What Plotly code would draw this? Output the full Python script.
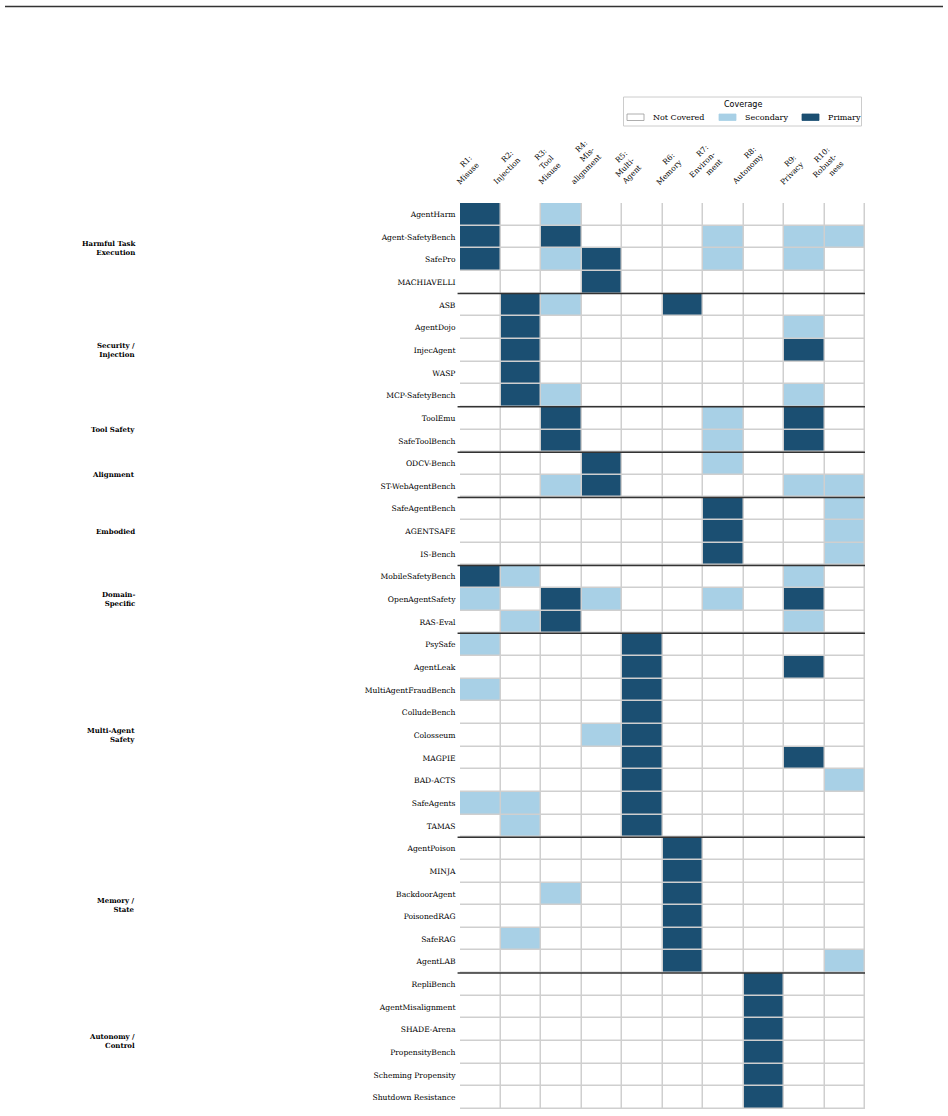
import plotly.graph_objects as go

# ---------------- data ----------------
risk_labels = ["R1:<br>Misuse", "R2:<br>Injection", "R3:<br>Tool<br>Misuse", "R4:<br>Mis-<br>alignment",
               "R5:<br>Multi-<br>Agent", "R6:<br>Memory", "R7:<br>Environ-<br>ment", "R8:<br>Autonomy",
               "R9:<br>Privacy", "R10:<br>Robust-<br>ness"]
risk_keys = ["R1", "R2", "R3", "R4", "R5", "R6", "R7", "R8", "R9", "R10"]

group_names = ["Harmful Task<br>Execution", "Security /<br>Injection", "Tool Safety", "Alignment", "Embodied",
               "Domain-<br>Specific", "Multi-Agent<br>Safety", "Memory /<br>State", "Autonomy /<br>Control"]
group_sizes = [4, 5, 2, 2, 3, 3, 9, 6, 6]

benchmarks = ["AgentHarm", "Agent-SafetyBench", "SafePro", "MACHIAVELLI",
              "ASB", "AgentDojo", "InjecAgent", "WASP", "MCP-SafetyBench",
              "ToolEmu", "SafeToolBench",
              "ODCV-Bench", "ST-WebAgentBench",
              "SafeAgentBench", "AGENTSAFE", "IS-Bench",
              "MobileSafetyBench", "OpenAgentSafety", "RAS-Eval",
              "PsySafe", "AgentLeak", "MultiAgentFraudBench", "ColludeBench", "Colosseum", "MAGPIE",
              "BAD-ACTS", "SafeAgents", "TAMAS",
              "AgentPoison", "MINJA", "BackdoorAgent", "PoisonedRAG", "SafeRAG", "AgentLAB",
              "RepliBench", "AgentMisalignment", "SHADE-Arena", "PropensityBench", "Scheming Propensity",
              "Shutdown Resistance"]

# coverage: 0 = not covered, 1 = secondary, 2 = primary  (columns R1..R10)
coverage = [
    [2, 0, 1, 0, 0, 0, 0, 0, 0, 0],  # AgentHarm
    [2, 0, 2, 0, 0, 0, 1, 0, 1, 1],  # Agent-SafetyBench
    [2, 0, 1, 2, 0, 0, 1, 0, 1, 0],  # SafePro
    [0, 0, 0, 2, 0, 0, 0, 0, 0, 0],  # MACHIAVELLI
    [0, 2, 1, 0, 0, 2, 0, 0, 0, 0],  # ASB
    [0, 2, 0, 0, 0, 0, 0, 0, 1, 0],  # AgentDojo
    [0, 2, 0, 0, 0, 0, 0, 0, 2, 0],  # InjecAgent
    [0, 2, 0, 0, 0, 0, 0, 0, 0, 0],  # WASP
    [0, 2, 1, 0, 0, 0, 0, 0, 1, 0],  # MCP-SafetyBench
    [0, 0, 2, 0, 0, 0, 1, 0, 2, 0],  # ToolEmu
    [0, 0, 2, 0, 0, 0, 1, 0, 2, 0],  # SafeToolBench
    [0, 0, 0, 2, 0, 0, 1, 0, 0, 0],  # ODCV-Bench
    [0, 0, 1, 2, 0, 0, 0, 0, 1, 1],  # ST-WebAgentBench
    [0, 0, 0, 0, 0, 0, 2, 0, 0, 1],  # SafeAgentBench
    [0, 0, 0, 0, 0, 0, 2, 0, 0, 1],  # AGENTSAFE
    [0, 0, 0, 0, 0, 0, 2, 0, 0, 1],  # IS-Bench
    [2, 1, 0, 0, 0, 0, 0, 0, 1, 0],  # MobileSafetyBench
    [1, 0, 2, 1, 0, 0, 1, 0, 2, 0],  # OpenAgentSafety
    [0, 1, 2, 0, 0, 0, 0, 0, 1, 0],  # RAS-Eval
    [1, 0, 0, 0, 2, 0, 0, 0, 0, 0],  # PsySafe
    [0, 0, 0, 0, 2, 0, 0, 0, 2, 0],  # AgentLeak
    [1, 0, 0, 0, 2, 0, 0, 0, 0, 0],  # MultiAgentFraudBench
    [0, 0, 0, 0, 2, 0, 0, 0, 0, 0],  # ColludeBench
    [0, 0, 0, 1, 2, 0, 0, 0, 0, 0],  # Colosseum
    [0, 0, 0, 0, 2, 0, 0, 0, 2, 0],  # MAGPIE
    [0, 0, 0, 0, 2, 0, 0, 0, 0, 1],  # BAD-ACTS
    [1, 1, 0, 0, 2, 0, 0, 0, 0, 0],  # SafeAgents
    [0, 1, 0, 0, 2, 0, 0, 0, 0, 0],  # TAMAS
    [0, 0, 0, 0, 0, 2, 0, 0, 0, 0],  # AgentPoison
    [0, 0, 0, 0, 0, 2, 0, 0, 0, 0],  # MINJA
    [0, 0, 1, 0, 0, 2, 0, 0, 0, 0],  # BackdoorAgent
    [0, 0, 0, 0, 0, 2, 0, 0, 0, 0],  # PoisonedRAG
    [0, 1, 0, 0, 0, 2, 0, 0, 0, 0],  # SafeRAG
    [0, 0, 0, 0, 0, 2, 0, 0, 0, 1],  # AgentLAB
    [0, 0, 0, 0, 0, 0, 0, 2, 0, 0],  # RepliBench
    [0, 0, 0, 0, 0, 0, 0, 2, 0, 0],  # AgentMisalignment
    [0, 0, 0, 0, 0, 0, 0, 2, 0, 0],  # SHADE-Arena
    [0, 0, 0, 0, 0, 0, 0, 2, 0, 0],  # PropensityBench
    [0, 0, 0, 0, 0, 0, 0, 2, 0, 0],  # Scheming Propensity
    [0, 0, 0, 0, 0, 0, 0, 2, 0, 0],  # Shutdown Resistance
]

legend_labels = ["Not Covered", "Secondary", "Primary"]

# ---------------- style ----------------
C_WHITE = "#ffffff"
C_LIGHT = "#a8d0e6"
C_DARK = "#1b4f72"
C_GRID = "#cfcfcf"
SERIF = "DejaVu Serif"
SANS = "DejaVu Sans"

W, H = 948, 1116
L, R, T, B = 460, 865, 203, 1109
PW, PH = R - L, B - T


def px(x):
    return (x - L) / PW


def py(y):
    return (B - y) / PH


fig = go.Figure()
fig.add_trace(go.Heatmap(
    z=coverage, x=risk_keys, y=benchmarks,
    zmin=0, zmax=2,
    colorscale=[[0, C_WHITE], [0.5, C_LIGHT], [1, C_DARK]],
    showscale=False, xgap=1.5, ygap=1.5, hoverinfo="skip",
))

shapes = []
annotations = []

# group separators & labels
start = 0
for name, n in zip(group_names, group_sizes):
    end = start + n
    center = (start + end - 1) / 2
    annotations.append(dict(
        x=px(137), xref="paper", y=center, yref="y", text="<b>" + name + "</b>",
        showarrow=False, xanchor="right", yanchor="middle", align="right",
        font=dict(family=SERIF, size=7, color="#000"),
    ))
    if end < len(benchmarks):
        shapes.append(dict(type="line", xref="paper", yref="y", x0=-0.006, x1=1.0,
                           y0=end - 0.5, y1=end - 0.5, line=dict(color="#333", width=1.5)))
    start = end

# column headers
for i, lab in enumerate(risk_labels):
    annotations.append(dict(
        x=i, xref="x", y=py(188), yref="paper", text=lab, textangle=-45,
        showarrow=False, xanchor="right", yanchor="bottom", align="right",
        xshift=3, borderpad=0,
        font=dict(family=SERIF, size=7.6, color="#000"),
    ))

# top rule
shapes.append(dict(type="line", xref="paper", yref="paper", x0=px(5), x1=px(943),
                   y0=py(6.5), y1=py(6.5), line=dict(color="#333", width=1.5)))

# legend (manual)
shapes.append(dict(type="rect", xref="paper", yref="paper", x0=px(623.5), x1=px(861.5),
                   y0=py(126), y1=py(97), line=dict(color="#cccccc", width=1), fillcolor="white"))
annotations.append(dict(x=px(743), y=py(105), xref="paper", yref="paper", text="Coverage",
                        showarrow=False, xanchor="center", yanchor="middle",
                        font=dict(family=SANS, size=8, color="#000")))
leg_cols = [C_WHITE, C_LIGHT, C_DARK]
leg_x = [627, 719, 802]
for lab, col, x0 in zip(legend_labels, leg_cols, leg_x):
    shapes.append(dict(type="rect", xref="paper", yref="paper", x0=px(x0), x1=px(x0 + 17),
                       y0=py(120.5), y1=py(114), fillcolor=col,
                       line=dict(color="#999999" if col == C_WHITE else col, width=0.8)))
    annotations.append(dict(x=px(x0 + 23.5), y=py(117.5), xref="paper", yref="paper", text=lab,
                            showarrow=False, xanchor="left", yanchor="middle",
                            font=dict(family=SERIF, size=8, color="#000")))

fig.update_layout(
    width=W, height=H,
    margin=dict(l=L, r=W - R, t=T, b=H - B, pad=0),
    paper_bgcolor="white", plot_bgcolor=C_GRID,
    shapes=shapes, annotations=annotations,
    showlegend=False,
)
fig.update_xaxes(showticklabels=False, showgrid=False, zeroline=False, ticks="",
                 range=[-0.5, len(risk_keys) - 0.5])
fig.update_yaxes(autorange="reversed", showgrid=False, zeroline=False,
                 ticks="outside", ticklen=2, tickcolor="rgba(0,0,0,0)",
                 tickfont=dict(family=SERIF, size=7.6, color="#000"))

fig.write_html("out.html")
